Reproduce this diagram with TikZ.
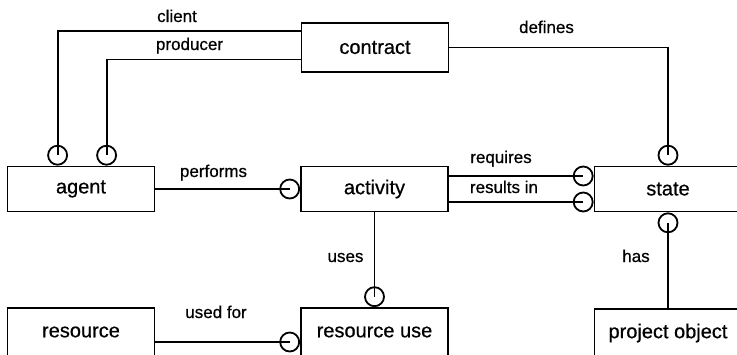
\documentclass[tikz,border=0pt]{standalone}
\usepackage{fontspec}
\setmainfont{Liberation Sans}[FakeBold=0.6]
\usetikzlibrary{positioning}

\begin{document}
\begin{tikzpicture}[x=1pt, y=-1pt, line width=1.8pt,
		entity/.style={draw, minimum width=147pt, minimum height=45pt, inner sep=0pt, font=\fontsize{20}{24}\selectfont},
		ring/.style={draw, circle, minimum size=19pt, inner sep=0pt},
		rel/.style={anchor=base, inner sep=0pt, font=\fontsize{17}{20}\selectfont}]
		\useasboundingbox (0,0) rectangle (737,354);
		% entities
		\node[entity] (agent) at (81,189) {agent};
		\node[entity, minimum height=49pt] (contract) at (375,47.5) {contract};
		\node[entity] (activity) at (374.5,189) {activity};
		\node[entity] (state) at (668,189) {state};
		\node[entity, minimum height=48pt] (resource) at (81,332) {resource};
		\node[entity, minimum height=48pt] (resuse) at (374.5,332) {resource use};
		\node[entity, minimum height=48pt] (project) at (668,333) {project object};
		% rings
		\node[ring, above=0pt of agent.north west, xshift=51pt] (cl) {};
		\node[ring, above=0pt of agent.north west, xshift=100pt] (pr) {};
		\node[ring, left=0pt of activity.west] (pf) {};
		\node[ring, left=0pt of state.west, yshift=13pt] (rq) {};
		\node[ring, left=0pt of state.west, yshift=-13pt] (rs) {};
		\node[ring, above=0pt of state.north] (df) {};
		\node[ring, below=0pt of state.south] (hs) {};
		\node[ring, above=0pt of resuse.north] (us) {};
		\node[ring, left=0pt of resuse.west, yshift=-10pt] (uf) {};
		% relations
		\draw (cl.center) |- ([yshift=16.5pt]contract.west);
		\draw (pr.center) |- ([yshift=-12pt]contract.west);
		\draw (contract.east) -| (df.center);
		\draw (agent.east) -- (pf.center);
		\draw ([yshift=13pt]activity.east) -- (rq.center);
		\draw ([yshift=-13pt]activity.east) -- (rs.center);
		\draw (activity.south) -- (us.center);
		\draw (hs.center) -- (project.north);
		\draw ([yshift=-10pt]resource.east) -- (uf.center);
		% labels
		\node[rel] (lclient) at (177,22) {client};
		\node[rel] (lproducer) at (189.5,50) {producer};
		\node[rel] (ldefines) at (546.5,33) {defines};
		\node[rel] (lperforms) at (213.5,177) {performs};
		\node[rel] (lrequires) at (501,163) {requires};
		\node[rel] (lresults) at (504,193) {results in};
		\node[rel] (luses) at (345.5,262) {uses};
		\node[rel] (lhas) at (636,262) {has};
		\node[rel] (lusedfor) at (216,318) {used for};
	\end{tikzpicture}
\end{document}
